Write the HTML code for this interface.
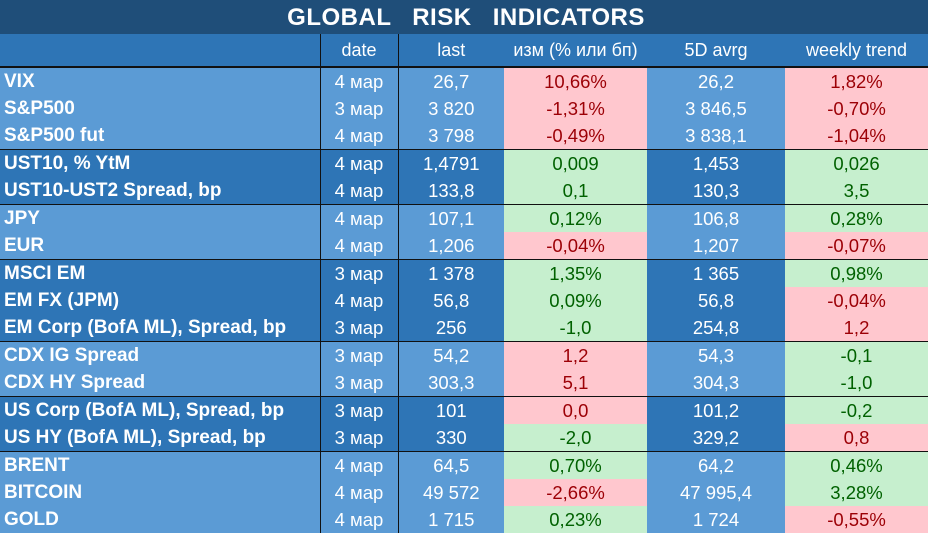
<!DOCTYPE html>
<html><head><meta charset="utf-8"><style>
body{margin:0;width:928px;height:526px;overflow:hidden;background:#5b9bd5;font-family:"Liberation Sans","DejaVu Sans",sans-serif}
#title{position:absolute;left:0;top:0;width:928px;height:34px;background:#1f4e79;color:#fff;font-weight:bold;font-size:24px;line-height:36px;text-align:center;letter-spacing:0.5px;word-spacing:14px;text-indent:4px}
table{position:absolute;left:0;top:34px;border-collapse:collapse;table-layout:fixed;width:928px}
td{height:27px;padding:0;font-size:18.5px;text-align:center;color:#fff;white-space:nowrap;overflow:hidden;line-height:27px}
tr.h td{height:32px;background:#2e75b6;color:#fff;font-size:18px;border-bottom:2px solid #111}
td.n{text-align:left;padding-left:4px;font-weight:bold;font-size:19px}
.L td{background:#5b9bd5}.D td{background:#2e75b6}
td.c2{border-left:1.5px solid #111;border-right:1.5px solid #111}
tr.end td{border-bottom:1.5px solid #111}
tr td.p{background:#ffc7ce;color:#9c0006}
tr td.g{background:#c6efce;color:#006100}
</style></head><body>
<div id="title">GLOBAL RISK INDICATORS</div>
<table>
<colgroup><col style="width:320px"><col style="width:78px"><col style="width:106px"><col style="width:143px"><col style="width:138px"><col style="width:143px"></colgroup>
<tr class="h"><td></td><td class="c2">date</td><td>last</td><td>изм (% или бп)</td><td>5D avrg</td><td>weekly trend</td></tr>
<tr class="L"><td class="n">VIX</td><td class="c2">4 мар</td><td>26,7</td><td class="p">10,66%</td><td>26,2</td><td class="p">1,82%</td></tr>
<tr class="L"><td class="n">S&amp;P500</td><td class="c2">3 мар</td><td>3 820</td><td class="p">-1,31%</td><td>3 846,5</td><td class="p">-0,70%</td></tr>
<tr class="L end"><td class="n">S&amp;P500 fut</td><td class="c2">4 мар</td><td>3 798</td><td class="p">-0,49%</td><td>3 838,1</td><td class="p">-1,04%</td></tr>
<tr class="D"><td class="n">UST10, % YtM</td><td class="c2">4 мар</td><td>1,4791</td><td class="g">0,009</td><td>1,453</td><td class="g">0,026</td></tr>
<tr class="D end"><td class="n">UST10-UST2 Spread, bp</td><td class="c2">4 мар</td><td>133,8</td><td class="g">0,1</td><td>130,3</td><td class="g">3,5</td></tr>
<tr class="L"><td class="n">JPY</td><td class="c2">4 мар</td><td>107,1</td><td class="g">0,12%</td><td>106,8</td><td class="g">0,28%</td></tr>
<tr class="L end"><td class="n">EUR</td><td class="c2">4 мар</td><td>1,206</td><td class="p">-0,04%</td><td>1,207</td><td class="p">-0,07%</td></tr>
<tr class="D"><td class="n">MSCI EM</td><td class="c2">3 мар</td><td>1 378</td><td class="g">1,35%</td><td>1 365</td><td class="g">0,98%</td></tr>
<tr class="D"><td class="n">EM FX (JPM)</td><td class="c2">4 мар</td><td>56,8</td><td class="g">0,09%</td><td>56,8</td><td class="p">-0,04%</td></tr>
<tr class="D end"><td class="n">EM Corp (BofA ML), Spread, bp</td><td class="c2">3 мар</td><td>256</td><td class="g">-1,0</td><td>254,8</td><td class="p">1,2</td></tr>
<tr class="L"><td class="n">CDX IG Spread</td><td class="c2">3 мар</td><td>54,2</td><td class="p">1,2</td><td>54,3</td><td class="g">-0,1</td></tr>
<tr class="L end"><td class="n">CDX HY Spread</td><td class="c2">3 мар</td><td>303,3</td><td class="p">5,1</td><td>304,3</td><td class="g">-1,0</td></tr>
<tr class="D"><td class="n">US Corp (BofA ML), Spread, bp</td><td class="c2">3 мар</td><td>101</td><td class="p">0,0</td><td>101,2</td><td class="g">-0,2</td></tr>
<tr class="D end"><td class="n">US HY (BofA ML), Spread, bp</td><td class="c2">3 мар</td><td>330</td><td class="g">-2,0</td><td>329,2</td><td class="p">0,8</td></tr>
<tr class="L"><td class="n">BRENT</td><td class="c2">4 мар</td><td>64,5</td><td class="g">0,70%</td><td>64,2</td><td class="g">0,46%</td></tr>
<tr class="L"><td class="n">BITCOIN</td><td class="c2">4 мар</td><td>49 572</td><td class="p">-2,66%</td><td>47 995,4</td><td class="g">3,28%</td></tr>
<tr class="L"><td class="n">GOLD</td><td class="c2">4 мар</td><td>1 715</td><td class="g">0,23%</td><td>1 724</td><td class="p">-0,55%</td></tr>
</table>
</body></html>
